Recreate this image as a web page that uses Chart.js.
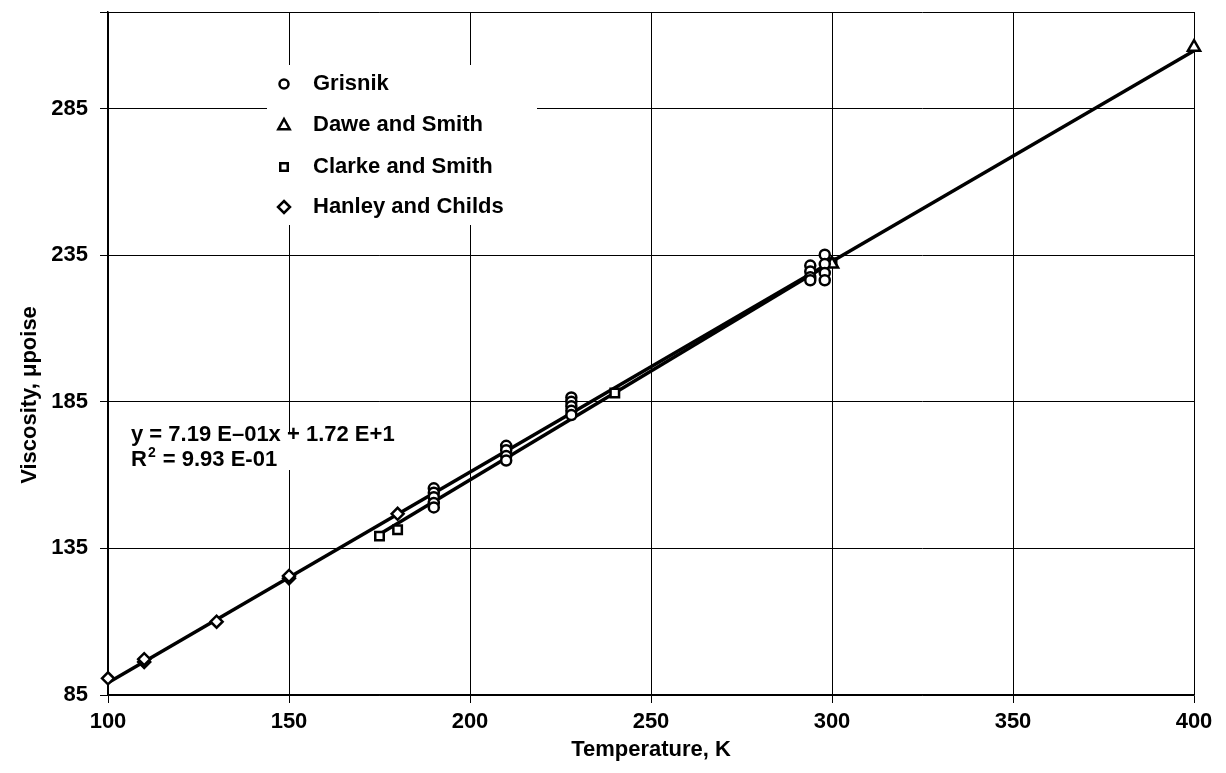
<!DOCTYPE html>
<html>
<head>
<meta charset="utf-8">
<script src="https://cdn.jsdelivr.net/npm/chart.js@4/dist/chart.umd.min.js"></script>
<style>
  html, body { margin: 0; padding: 0; background: #fff; }
  #wrap { width: 1226px; height: 773px; }
</style>
</head>
<body>
<div id="wrap"><canvas id="chart" width="1226" height="773"></canvas></div>
<script>
'use strict';

// axis ticks
const xTicks = [100, 150, 200, 250, 300, 350, 400];
const yTicks = [85, 135, 185, 235, 285];
const yTop = 318;

// Grisnik
const grisnikT = [190, 190, 190, 190, 190, 210, 210, 210, 210, 228, 228, 228, 228, 228, 294, 294, 294, 294, 298, 298, 298, 298];
const grisnikV = [155.5, 154, 152.5, 150.5, 149, 170, 168.5, 166.5, 165, 186.5, 185, 183.5, 182, 180.5, 231.5, 229.5, 227.5, 226.5, 235.2, 232, 229, 226.5];

// Dawe and Smith
const daweT = [300, 400];
const daweV = [232, 306];

// Clarke and Smith
const clarkeT = [175, 180, 240, 300];
const clarkeV = [139.2, 141.4, 188, 232.5];

// Hanley and Childs
const hanleyT = [100, 110, 110, 130, 150, 150, 180];
const hanleyV = [90.7, 96.3, 97.2, 110, 124.8, 125.6, 146.8];

// fitted lines
const fitT = [100, 400];
const fitV = [89.2, 304.8];
const subFitT = [175, 300];
const subFitV = [139.8, 232.6];

const FONT = '"Liberation Sans", Arial, Helvetica, sans-serif';

function pts(xs, ys) {
	let out = [];
	for (let i = 0; i < xs.length; ++i) {
		out.push({ x: xs[i], y: ys[i] });
	}
	return out;
}

function marker(label, xs, ys, style, radius) {
	return {
		type: 'scatter',
		label: label,
		data: pts(xs, ys),
		pointStyle: style,
		pointRadius: radius,
		pointBorderWidth: 2.5,
		pointBorderColor: '#000',
		pointBackgroundColor: '#fff',
		clip: false,
		order: 1
	};
}

function fitLine(xs, ys) {
	return {
		type: 'line',
		data: pts(xs, ys),
		borderColor: '#000',
		borderWidth: 3.5,
		pointRadius: 0,
		fill: false,
		clip: false,
		order: 2
	};
}

function drawMark(ctx, style, x, y, r) {
	ctx.beginPath();
	if (style === 'circle') {
		ctx.arc(x, y, r, 0, Math.PI * 2);
	} else if (style === 'triangle') {
		ctx.moveTo(x, y - r);
		ctx.lineTo(x + r * 0.95, y + r * 0.7);
		ctx.lineTo(x - r * 0.95, y + r * 0.7);
		ctx.closePath();
	} else if (style === 'rect') {
		ctx.rect(x - r * 0.75, y - r * 0.75, r * 1.5, r * 1.5);
	} else {
		ctx.moveTo(x, y - r);
		ctx.lineTo(x + r, y);
		ctx.lineTo(x, y + r);
		ctx.lineTo(x - r, y);
		ctx.closePath();
	}
	ctx.fillStyle = '#fff';
	ctx.fill();
	ctx.lineWidth = 2.5;
	ctx.strokeStyle = '#000';
	ctx.stroke();
}

const legendItems = [
	{ text: 'Grisnik', style: 'circle', r: 4.5 },
	{ text: 'Dawe and Smith', style: 'triangle', r: 6 },
	{ text: 'Clarke and Smith', style: 'rect', r: 5 },
	{ text: 'Hanley and Childs', style: 'rectRot', r: 6 }
];
const legendRows = [84, 125, 167, 207];

const annotations = {
	id: 'annotations',
	beforeDatasetsDraw(chart) {
		const ctx = chart.ctx;
		ctx.save();

		// legend box
		ctx.fillStyle = '#fff';
		ctx.fillRect(267, 65, 270, 160);
		ctx.font = 'bold 22px ' + FONT;
		ctx.textBaseline = 'middle';
		ctx.textAlign = 'left';
		for (let i = 0; i < legendItems.length; ++i) {
			drawMark(ctx, legendItems[i].style, 284, legendRows[i], legendItems[i].r);
			ctx.fillStyle = '#000';
			ctx.fillText(legendItems[i].text, 313, legendRows[i]);
		}

		// equation box
		ctx.fillStyle = '#fff';
		ctx.fillRect(125, 432, 320, 38);
		ctx.fillStyle = '#000';
		ctx.textBaseline = 'alphabetic';
		ctx.font = 'bold 22px ' + FONT;
		ctx.fillText('y = 7.19 E\u201301x + 1.72 E+1', 131, 441);
		ctx.fillText('R', 131, 466);
		let w = ctx.measureText('R').width;
		ctx.font = 'bold 14px ' + FONT;
		ctx.fillText('2', 131 + w + 1, 457);
		let w2 = ctx.measureText('2').width;
		ctx.font = 'bold 22px ' + FONT;
		ctx.fillText(' = 9.93 E-01', 131 + w + w2 + 2, 466);
		ctx.restore();
	},
	afterDraw(chart) {
		const ctx = chart.ctx;
		ctx.save();
		ctx.translate(30, 395);
		ctx.rotate(-Math.PI / 2);
		ctx.font = 'bold 22px ' + FONT;
		ctx.fillStyle = '#000';
		ctx.textAlign = 'center';
		ctx.textBaseline = 'middle';
		ctx.fillText('Viscosity, \u03bcpoise', 0, 0);
		ctx.restore();
	}
};

const chart = new Chart(document.getElementById('chart'), {
	data: {
		datasets: [
			marker('Grisnik', grisnikT, grisnikV, 'circle', 5),
			marker('Dawe and Smith', daweT, daweV, 'triangle', 7),
			marker('Clarke and Smith', clarkeT, clarkeV, 'rect', 6),
			marker('Hanley and Childs', hanleyT, hanleyV, 'rectRot', 6),
			fitLine(fitT, fitV),
			fitLine(subFitT, subFitV)
		]
	},
	options: {
		responsive: false,
		animation: false,
		devicePixelRatio: 1,
		layout: { padding: { top: 12, right: 32, left: 0, bottom: 0 } },
		plugins: {
			legend: { display: false },
			tooltip: { enabled: false }
		},
		scales: {
			x: {
				type: 'linear',
				min: 100,
				max: 400,
				afterBuildTicks: (scale) => { scale.ticks = xTicks.map(v => ({ value: v })); },
				afterFit: (scale) => {
					scale.height = 78;
					scale.paddingLeft = 0;
					scale.paddingRight = 0;
				},
				grid: { color: '#000', lineWidth: 1, tickLength: 8, tickColor: '#000' },
				border: { color: '#000', width: 1.5 },
				ticks: { color: '#000', font: { family: FONT, size: 22, weight: 'bold' }, padding: 6, maxRotation: 0 },
				title: {
					display: true,
					text: 'Temperature, K',
					color: '#000',
					font: { family: FONT, size: 22, weight: 'bold' },
					padding: { top: 0, bottom: 10 }
				}
			},
			y: {
				type: 'linear',
				min: 85,
				max: yTop,
				afterBuildTicks: (scale) => {
					scale.ticks = yTicks.concat([yTop]).map(v => ({ value: v }));
				},
				afterFit: (scale) => {
					scale.width = 108;
					scale.paddingTop = 0;
					scale.paddingBottom = 0;
				},
				grid: { color: '#000', lineWidth: 1, tickLength: 8, tickColor: '#000' },
				border: { color: '#000', width: 1.5 },
				ticks: {
					color: '#000',
					font: { family: FONT, size: 22, weight: 'bold' },
					padding: 12,
					callback: (v) => (yTicks.indexOf(v) >= 0 ? String(v) : '')
				}
			}
		}
	},
	plugins: [annotations]
});
</script>
</body>
</html>
